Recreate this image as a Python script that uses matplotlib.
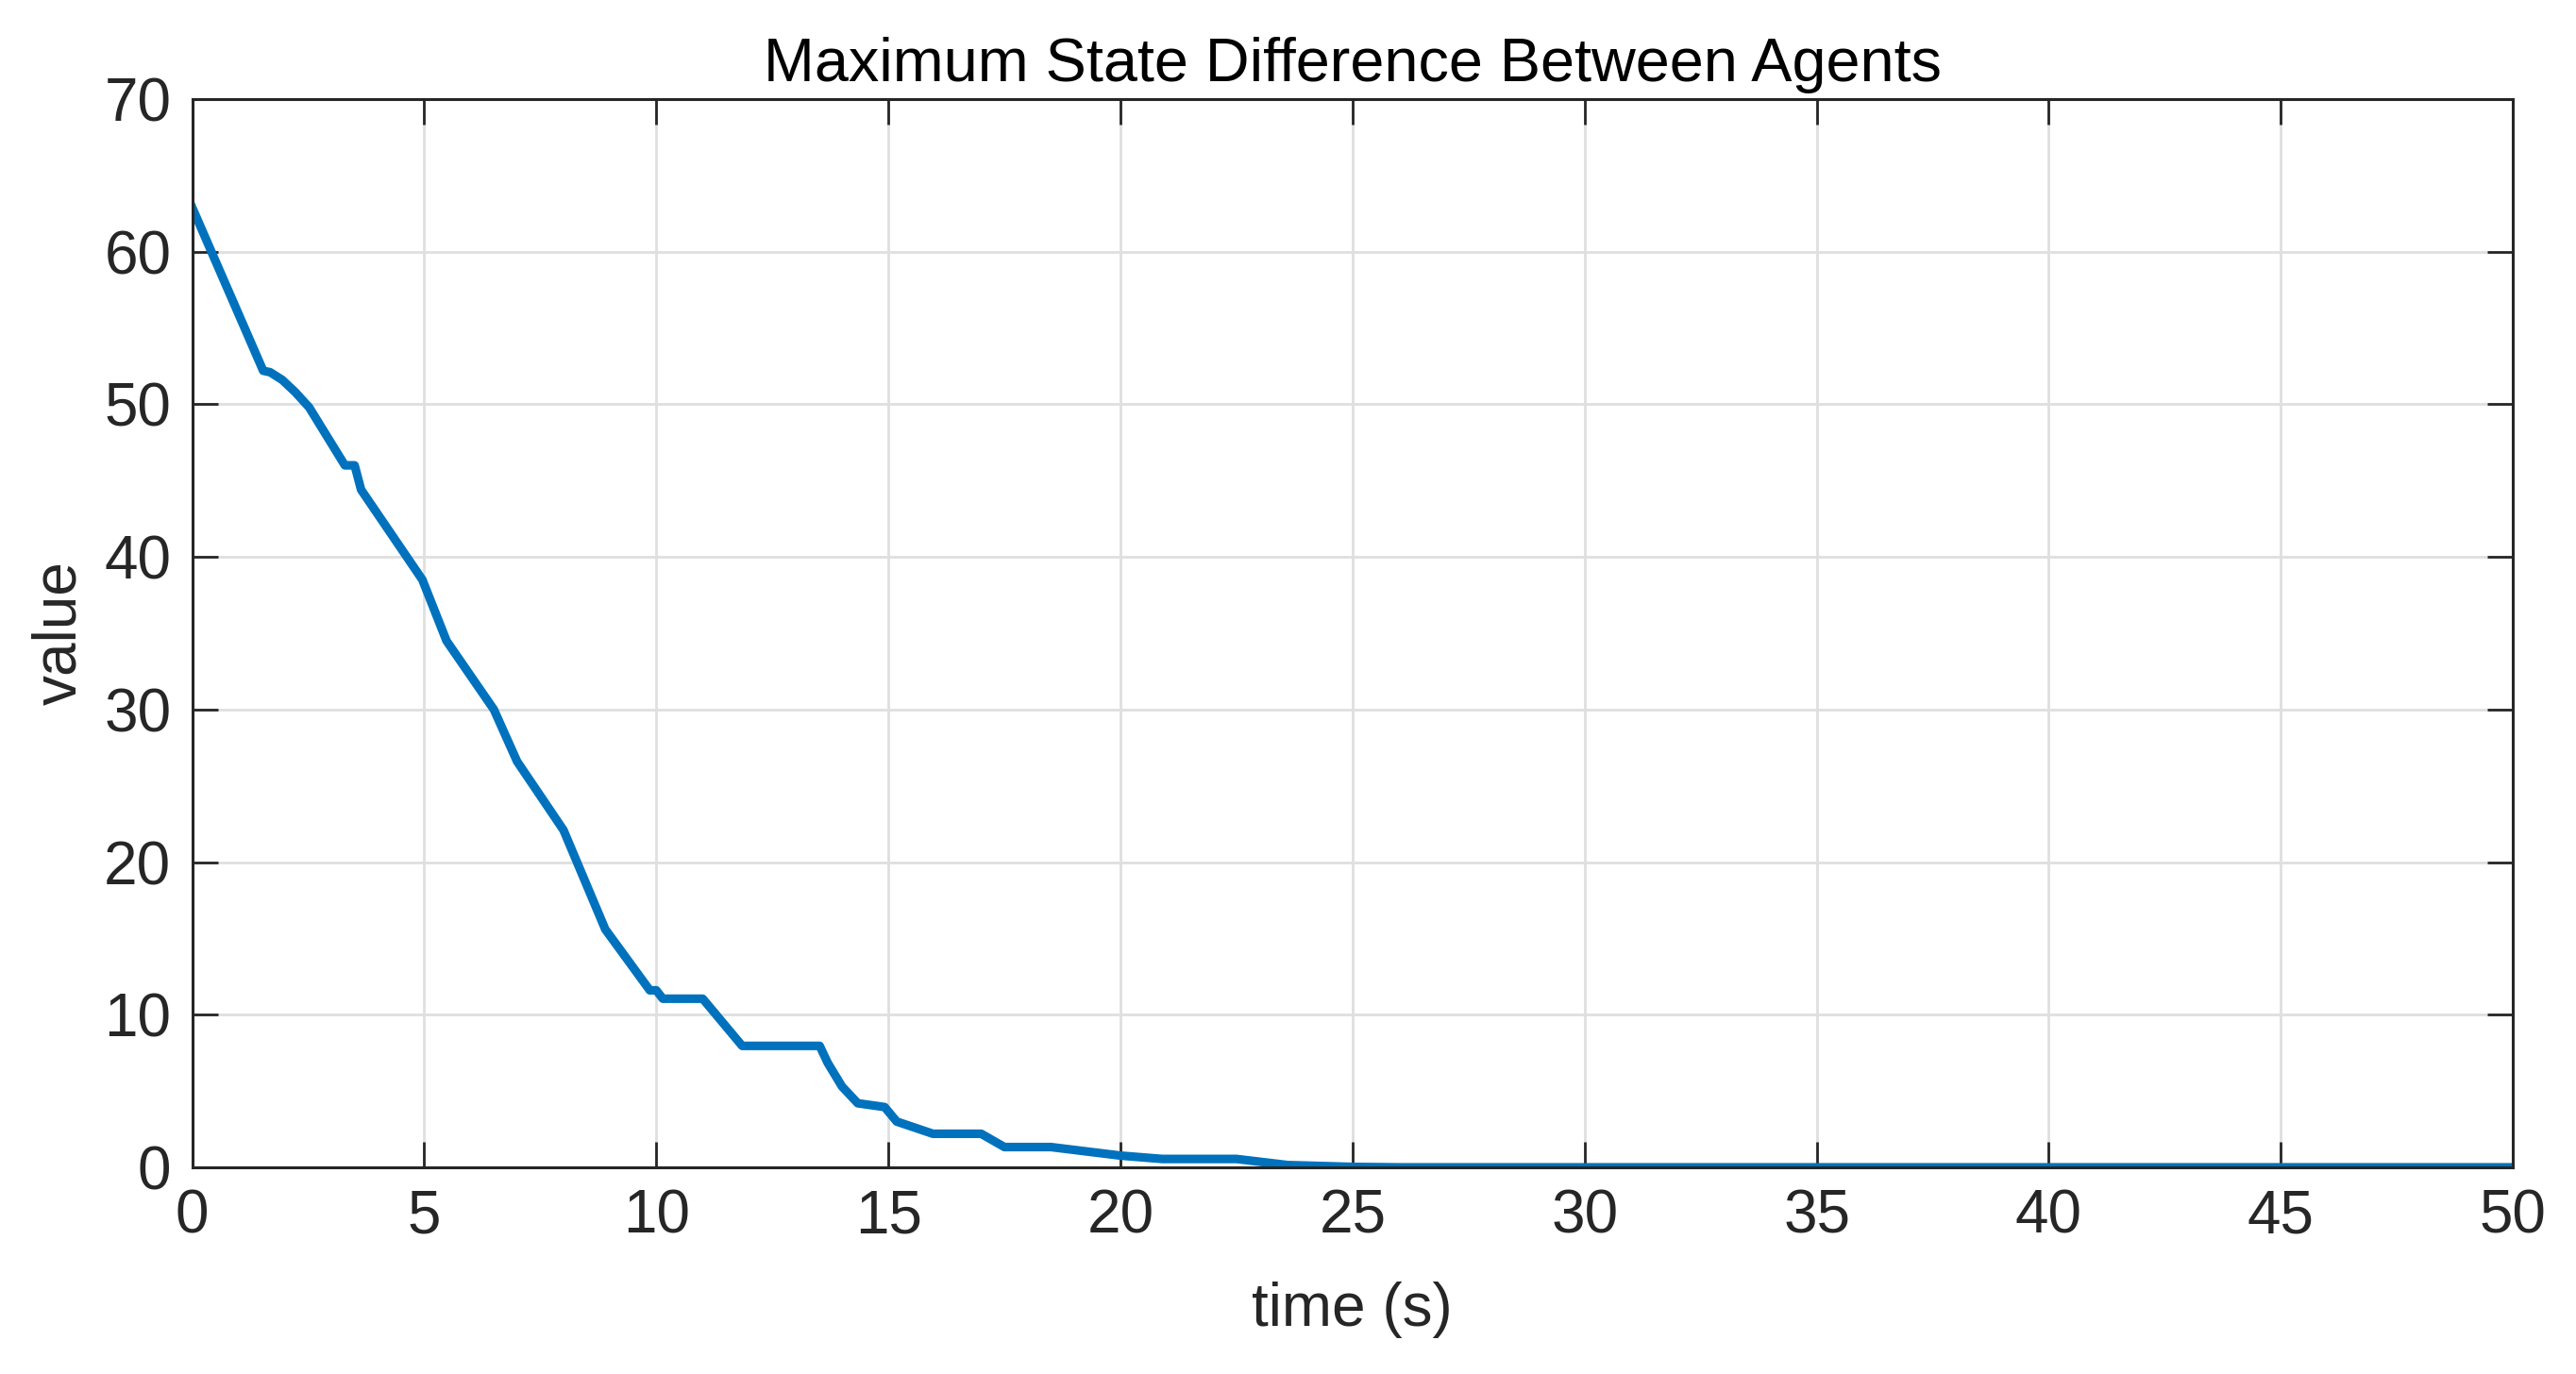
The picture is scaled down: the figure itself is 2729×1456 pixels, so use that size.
import matplotlib
matplotlib.use('Agg')
import matplotlib.pyplot as plt

# データ定義
time_s = [0.0, 1.53, 1.68, 1.94, 2.22, 2.52, 3.29, 3.5, 3.64, 4.96, 5.48,
          6.5, 7.0, 8.0, 8.9, 9.86, 10.0, 10.14, 11.0, 11.85, 13.52, 13.69,
          14.0, 14.34, 14.92, 15.18, 15.96, 17.0, 17.5, 18.5, 20.0, 20.9,
          22.5, 23.6, 25.0, 26.0, 50.0]
max_diff = [62.9, 52.2, 52.1, 51.6, 50.8, 49.8, 46.0, 46.0, 44.4, 38.5, 34.5,
            30.0, 26.6, 22.1, 15.6, 11.6, 11.6, 11.05, 11.05, 7.96, 7.96, 6.86,
            5.3, 4.2, 3.95, 3.0, 2.2, 2.2, 1.33, 1.33, 0.77, 0.55,
            0.55, 0.15, 0.03, 0.0, 0.0]

xticks = list(range(0, 51, 5))
yticks = list(range(0, 71, 10))

plt.rcParams['font.family'] = ['Liberation Sans', 'DejaVu Sans']
ink = '#262626'

fig = plt.figure(figsize=(13.645, 7.28), dpi=200)
ax = fig.add_axes([0.0746, 0.1504, 0.9755 - 0.0746, 0.9279 - 0.1504])
ax.plot(time_s, max_diff, color='#0072BD', linewidth=3.3, solid_joinstyle='round')
ax.set_xlim(0, 50)
ax.set_ylim(0, 70)
ax.set_xticks(xticks)
ax.set_yticks(yticks)
ax.grid(True, color='#dfdfdf', linewidth=1.0)
ax.set_axisbelow(True)
ax.tick_params(direction='in', length=9.7, width=1.0, colors=ink,
               labelsize=23, top=True, right=True, pad=8)
for s in ax.spines.values():
    s.set_color(ink)
    s.set_linewidth(1.1)
ax.set_title('Maximum State Difference Between Agents', fontsize=23.3,
             color='black', pad=7)
ax.set_xlabel('time (s)', fontsize=23, color=ink, labelpad=14)
ax.set_ylabel('value', fontsize=23, color=ink, labelpad=6)

fig.savefig('out.png', dpi=200)
